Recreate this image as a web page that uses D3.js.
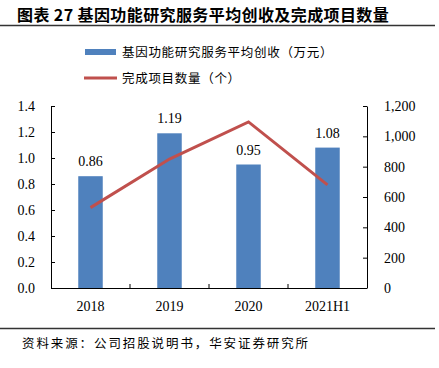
<!DOCTYPE html>
<html>
<head>
<meta charset="utf-8">
<script src="https://cdn.jsdelivr.net/npm/d3@7"></script>
<style>
  body { margin: 0; background: #fff; }
  svg { display: block; }
</style>
</head>
<body>
<svg id="chart"></svg>
<script>
const categories = ["2018", "2019", "2020", "2021H1"];
const revenue = [0.86, 1.19, 0.95, 1.08];
const projects = [530, 850, 1095, 680];
const leftTicks = [0, 0.2, 0.4, 0.6, 0.8, 1.0, 1.2, 1.4];
const rightTicks = [0, 200, 400, 600, 800, 1000, 1200];

const width = 439;
const height = 368;
const plot = { left: 51, right: 367, top: 106, bottom: 288 };

const cjk = "'Noto Sans CJK SC', sans-serif";
const serif = "'Liberation Serif', 'Times New Roman', serif";

const svg = d3.select("#chart")
    .attr("width", width)
    .attr("height", height);

// title and rules
svg.append("text")
    .attr("x", 17)
    .attr("y", 21)
    .style("font-family", cjk)
    .style("font-weight", "bold")
    .style("font-size", "16px")
    .style("letter-spacing", "0.4px")
    .text("图表 27 基因功能研究服务平均创收及完成项目数量");

svg.append("line")
    .attr("x1", 0).attr("x2", 435)
    .attr("y1", 25.5).attr("y2", 25.5)
    .attr("stroke", "#333").attr("stroke-width", 1.5);

svg.append("line")
    .attr("x1", 0).attr("x2", 435)
    .attr("y1", 328.5).attr("y2", 328.5)
    .attr("stroke", "#333").attr("stroke-width", 1.5);

svg.append("text")
    .attr("x", 22)
    .attr("y", 348)
    .style("font-family", cjk)
    .style("font-size", "12.5px")
    .style("letter-spacing", "1.9px")
    .text("资料来源：公司招股说明书，华安证券研究所");

// legend
const legend = svg.append("g");
legend.append("rect")
    .attr("x", 85).attr("y", 49)
    .attr("width", 31).attr("height", 6)
    .attr("fill", "#4F81BD");
legend.append("text")
    .attr("x", 122).attr("y", 57)
    .style("font-family", cjk)
    .style("font-size", "12.5px")
    .style("letter-spacing", "0.7px")
    .text("基因功能研究服务平均创收（万元）");
legend.append("line")
    .attr("x1", 84).attr("x2", 117)
    .attr("y1", 78).attr("y2", 78)
    .attr("stroke", "#C0504D").attr("stroke-width", 3);
legend.append("text")
    .attr("x", 122).attr("y", 83)
    .style("font-family", cjk)
    .style("font-size", "12.5px")
    .style("letter-spacing", "0.7px")
    .text("完成项目数量（个）");

// scales
const x = d3.scaleBand()
    .domain(categories)
    .range([plot.left, plot.right])
    .paddingInner(0.69)
    .paddingOuter(0.345);

const xTick = d3.scaleBand()
    .domain(categories)
    .range([plot.left, plot.right]);

const yLeft = d3.scaleLinear().domain([0, 1.4]).range([plot.bottom, plot.top]);
const yRight = d3.scaleLinear().domain([0, 1200]).range([plot.bottom, plot.top]);

// bars
svg.selectAll(".bar")
    .data(revenue)
    .enter()
    .append("rect")
    .attr("class", "bar")
    .attr("x", (d, i) => x(categories[i]))
    .attr("y", d => yLeft(d))
    .attr("width", x.bandwidth())
    .attr("height", d => plot.bottom - yLeft(d))
    .attr("fill", "#4F81BD");

svg.selectAll(".bar-label")
    .data(revenue)
    .enter()
    .append("text")
    .attr("class", "bar-label")
    .attr("x", (d, i) => x(categories[i]) + x.bandwidth() / 2)
    .attr("y", d => yLeft(d) - 10)
    .attr("text-anchor", "middle")
    .style("font-family", serif)
    .style("font-size", "14px")
    .text(d => d.toFixed(2));

// line
const line = d3.line()
    .x((d, i) => x(categories[i]) + x.bandwidth() / 2)
    .y(d => yRight(d));

svg.append("path")
    .datum(projects)
    .attr("d", line)
    .attr("fill", "none")
    .attr("stroke", "#C0504D")
    .attr("stroke-width", 3);

// axes
const leftAxis = d3.axisLeft(yLeft)
    .tickValues(leftTicks)
    .tickFormat(d3.format(".1f"))
    .tickSizeInner(-4)
    .tickSizeOuter(0)
    .tickPadding(16);

const rightAxis = d3.axisRight(yRight)
    .tickValues(rightTicks)
    .tickFormat(d3.format(","))
    .tickSizeInner(-4)
    .tickSizeOuter(0)
    .tickPadding(17);

const gLeft = svg.append("g")
    .attr("transform", `translate(${plot.left},0)`)
    .call(leftAxis);

const gRight = svg.append("g")
    .attr("transform", `translate(${plot.right},0)`)
    .call(rightAxis);

const bottomAxis = d3.axisBottom(xTick)
    .tickSize(0)
    .tickPadding(13);

const gBottom = svg.append("g")
    .attr("transform", `translate(0,${plot.bottom})`)
    .call(bottomAxis);

// category separators on the x axis
svg.selectAll(".sep")
    .data(categories.slice(1))
    .enter()
    .append("line")
    .attr("class", "sep")
    .attr("x1", d => xTick(d)).attr("x2", d => xTick(d))
    .attr("y1", plot.bottom).attr("y2", plot.bottom - 4)
    .attr("stroke", "#000");

[gLeft, gRight, gBottom].forEach(g => {
    g.selectAll("text")
        .style("font-family", serif)
        .style("font-size", "14px")
        .attr("fill", "#000");
    g.selectAll("line, path").attr("stroke", "#000");
});
gBottom.select(".domain").attr("d", `M${plot.left},0.5H${plot.right}`);
</script>
</body>
</html>
